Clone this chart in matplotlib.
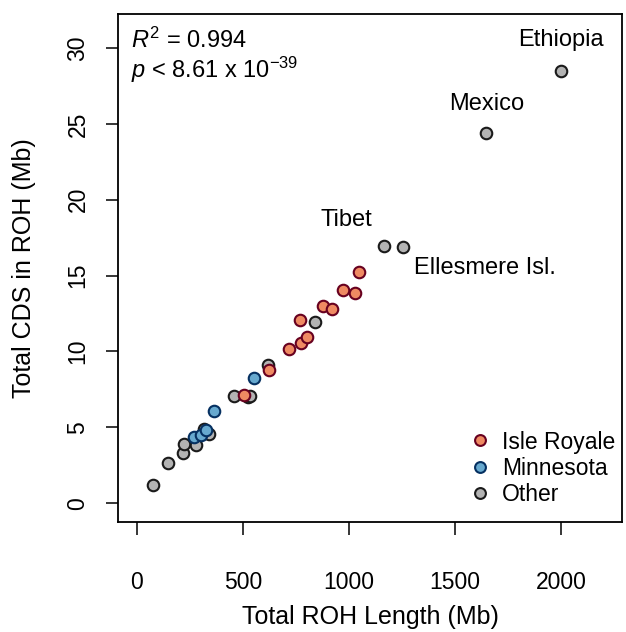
import matplotlib
matplotlib.use("Agg")
import matplotlib.pyplot as plt
from matplotlib.lines import Line2D

plt.rcParams['font.family'] = ['Liberation Sans', 'DejaVu Sans']
plt.rcParams['mathtext.fontset'] = 'custom'
plt.rcParams['mathtext.rm'] = 'Liberation Sans'
plt.rcParams['mathtext.it'] = 'Liberation Sans:italic'

# Data (Total ROH length in Mb, Total CDS in ROH in Mb)
other_x = [78, 150, 219, 225, 282, 316, 340, 458, 525, 532, 618, 843, 1165, 1256, 1648, 2002]
other_y = [1.21, 2.64, 3.34, 3.87, 3.82, 4.92, 4.57, 7.05, 7.02, 7.05, 9.08, 11.92, 16.96, 16.9, 24.37, 28.5]
minn_x = [272, 305, 326, 364, 553]
minn_y = [4.37, 4.48, 4.83, 6.06, 8.27]
isle_x = [504, 626, 717, 774, 804, 769, 879, 921, 973, 1028, 1049]
isle_y = [7.14, 8.77, 10.17, 10.59, 10.94, 12.06, 12.99, 12.79, 14.04, 13.82, 15.25]

labels = ["Ethiopia", "Mexico", "Tibet", "Ellesmere Isl."]
label_x = [2002, 1649, 987, 1640]
label_y = [30.5, 26.3, 18.65, 15.5]

legend_names = ["Isle Royale", "Minnesota", "Other"]
fills = ["#EF8A62", "#67A9CF", "#B3B3B3"]
edges = ["#67001F", "#053061", "#1A1A1A"]

fig = plt.figure(figsize=(6.26, 6.32), dpi=100)
ax = fig.add_axes([118/626, 1 - 522/632, (622-118)/626, (522-14)/632])

ms = 8.3
ew = 1.5
ax.plot(other_x, other_y, 'o', ms=ms, mfc=fills[2], mec=edges[2], mew=ew, ls='none')
ax.plot(minn_x, minn_y, 'o', ms=ms, mfc=fills[1], mec=edges[1], mew=ew, ls='none')
ax.plot(isle_x, isle_y, 'o', ms=ms, mfc=fills[0], mec=edges[0], mew=ew, ls='none')

ax.set_xlim(-88, 2288)
ax.set_ylim(-1.24, 32.24)
ax.set_xticks([0, 500, 1000, 1500, 2000])
ax.set_yticks([0, 5, 10, 15, 20, 25, 30])
ax.tick_params(direction='out', length=9, width=1.1, labelsize=16.5, colors='black')
ax.tick_params(axis='x', pad=26)
ax.tick_params(axis='y', pad=11.5)
for lab in ax.get_yticklabels():
    lab.set_rotation(90)
    lab.set_va('center')
for s in ax.spines.values():
    s.set_linewidth(1.3)

ax.set_xlabel("Total ROH Length (Mb)", fontsize=18, labelpad=8.5)
ax.set_ylabel("Total CDS in ROH (Mb)", fontsize=18, labelpad=22)

for t, x, y in zip(labels, label_x, label_y):
    ax.text(x, y, t, fontsize=17, ha='center', va='center')

ax.text(0.026, 0.949, r"$R^2$ = 0.994", transform=ax.transAxes, fontsize=17, ha='left', va='center')
ax.text(0.026, 0.890, r"$p$ < 8.61 x 10$^{-39}$", transform=ax.transAxes, fontsize=17, ha='left', va='center')

handles = [Line2D([0], [0], marker='o', ls='none', ms=7.8, mfc=f, mec=e, mew=1.5)
           for f, e in zip(fills, edges)]
ax.legend(handles, legend_names, loc='lower right', bbox_to_anchor=(0.9954, 0.0217),
          frameon=False, fontsize=16.5, handletextpad=0.35, labelspacing=0.15,
          borderaxespad=0.0, borderpad=0.2, handlelength=1.2)

fig.savefig("out.png", dpi=100)
